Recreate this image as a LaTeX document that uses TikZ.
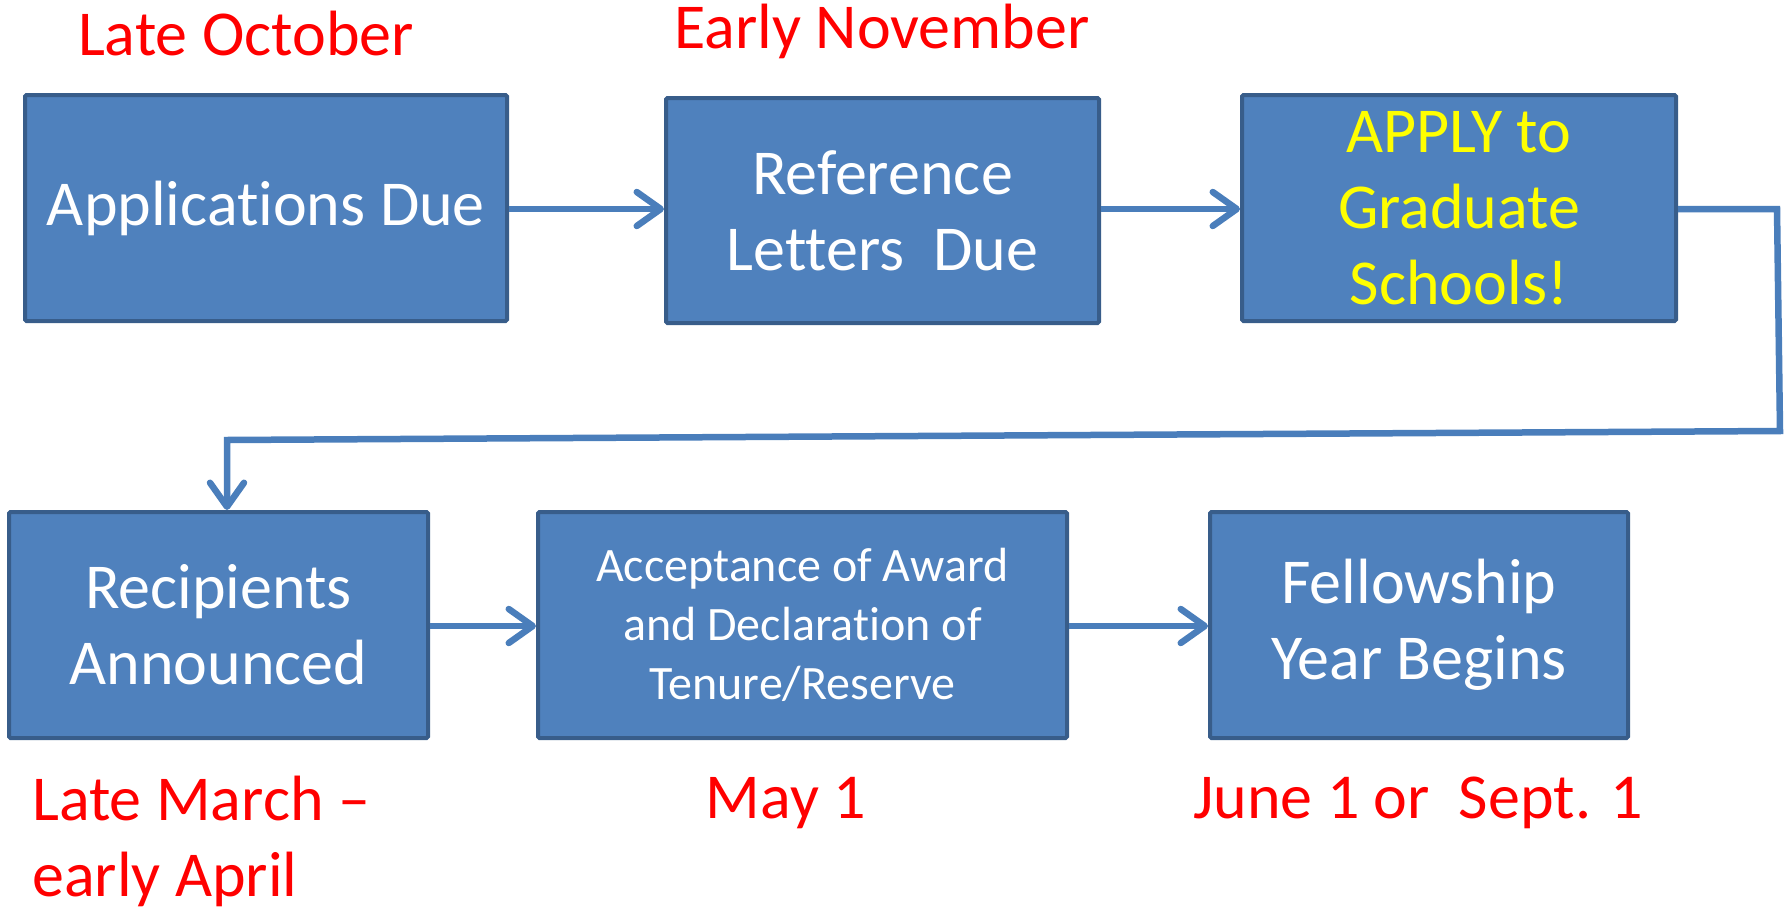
\documentclass[tikz,border=0pt]{standalone}
\usepackage{fontspec}
\setmainfont{Carlito}[Ligatures=NoCommon]
\usetikzlibrary{arrows.meta}
\definecolor{boxfill}{HTML}{4F81BD}
\definecolor{boxline}{HTML}{385D8A}
\definecolor{arrowcol}{HTML}{4A7EBB}
\definecolor{datered}{HTML}{FF0000}
\definecolor{applyyellow}{HTML}{FFFF00}
\tikzset{
  stepbox/.style={draw=boxline, fill=boxfill, line width=4pt, rounded corners=1.5pt,
    text=white, align=center, inner sep=0pt, font=\fontsize{64}{76}\selectfont},
  datelabel/.style={text=datered, font=\fontsize{64}{76}\selectfont, inner sep=0pt},
  conn/.style={draw=arrowcol, line width=6.5pt,
    -{Straight Barb[length=24pt, width=34pt, line cap=round, line join=round]}},
}
\begin{document}
\begin{tikzpicture}[x=1pt, y=-1pt]
\useasboundingbox (0,0) rectangle (1791,910);
\node[stepbox, minimum width=482pt, minimum height=226pt] (b1) at (266,208) {Applications Due};
\node[stepbox, minimum width=433pt, minimum height=225pt] (b2) at (882.5,210.5) {Reference\\Letters\ \ Due};
\node[stepbox, minimum width=434pt, minimum height=226pt, text=applyyellow] (b3) at (1459,208) {APPLY to\\Graduate\\Schools!};
\node[stepbox, minimum width=419pt, minimum height=226pt] (b4) at (218.5,625) {Recipients\\Announced};
\node[stepbox, minimum width=529pt, minimum height=226pt, font=\fontsize{48}{59}\selectfont] (b5) at (802.5,625) {Acceptance of Award\\and Declaration of\\Tenure/Reserve};
\node[stepbox, minimum width=418pt, minimum height=226pt] (b6) at (1419,625) {Fellowship\\Year Begins};

\node[datelabel] (d1) at (246,34) {Late October};
\node[datelabel] (d2) at (882,31) {Early November};
\node[datelabel, anchor=west, align=left] (d4) at (32,841) {Late March --\\early April};
\node[datelabel] (d5) at (786,803) {May 1};
\node[datelabel] (d6) at (1418,803) {June 1 or\ \ Sept. 1};

\coordinate (c1) at (1777,209);
\coordinate (c2) at (1780,431);
\coordinate (c3) at (227,440);

\draw[conn] (b1.east |- 0,209) -- (b2.west |- 0,209);
\draw[conn] (b2.east |- 0,209) -- (b3.west |- 0,209);
\draw[conn] (b3.east |- c1) -- (c1) -- (c2) -- (c3) -- (c3 |- b4.north);
\draw[conn] (b4.east |- 0,626) -- (b5.west |- 0,626);
\draw[conn] (b5.east |- 0,626) -- (b6.west |- 0,626);
\end{tikzpicture}
\end{document}
